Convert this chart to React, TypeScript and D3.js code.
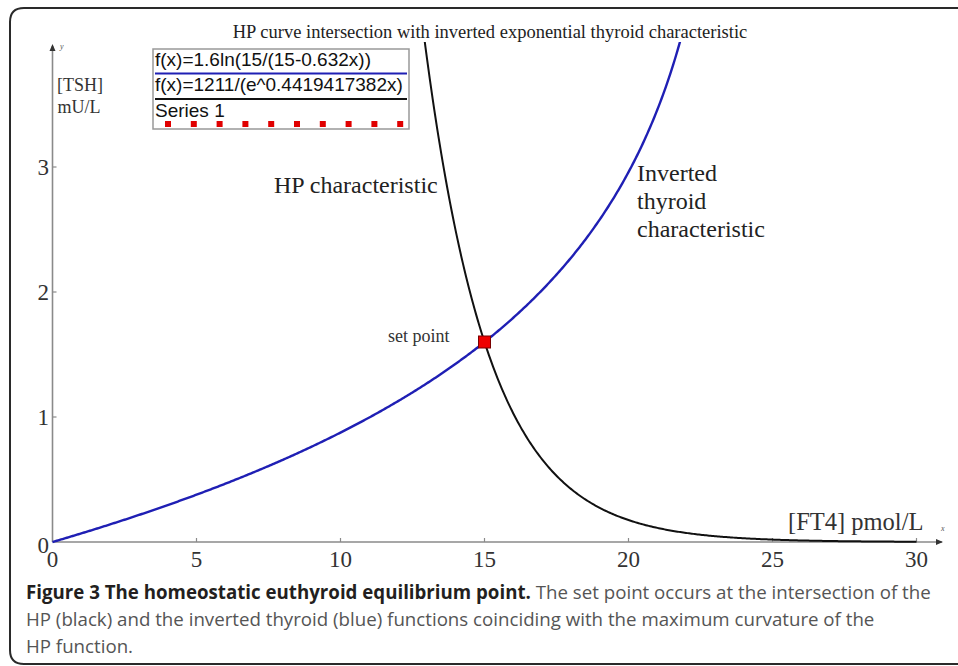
import React from "react";
import * as d3 from "d3";

// Function parameters as given in the legend
const thyroidA = 1.6; // f(x)=1.6ln(15/(15-0.632x))
const thyroidB = 15;
const thyroidC = 0.632;
const hpA = 1211; // f(x)=1211/(e^0.4419417382x)
const hpK = 0.4419417382;

const xTicks = [0, 5, 10, 15, 20, 25, 30];
const yTicks = [0, 1, 2, 3];
const setPoint = [{ x: 15, y: 1.6 }];
const legendLabels = ["f(x)=1.6ln(15/(15-0.632x))", "f(x)=1211/(e^0.4419417382x)", "Series 1"];
const legendColors = ["#1f1fb4", "#111111", "#e00000"];

const W = 958;
const H = 666;
const SERIF = "'Liberation Serif', 'Times New Roman', serif";
const SANS = "'Liberation Sans', Arial, sans-serif";
const CAP = "'Open Sans', 'Noto Sans', sans-serif";

export default function App() {
  const x = d3.scaleLinear().domain([0, 30]).range([52.5, 916.5]);
  const y = d3.scaleLinear().domain([0, 3]).range([542, 167]);

  const blueXs = d3.range(0, 22.5, 0.05);
  const blackXs = d3.range(12, 30.0001, 0.05);
  const blue = blueXs.map((v) => [v, thyroidA * Math.log(thyroidB / (thyroidB - thyroidC * v))] as [number, number]);
  const black = blackXs.map((v) => [v, hpA / Math.exp(hpK * v)] as [number, number]);
  const line = d3
    .line<[number, number]>()
    .x((d) => x(d[0]))
    .y((d) => y(d[1]));

  const axisColor = "#8a8a8a";
  const legendX = 153;
  const legendY = 49;
  const legendW = 256;
  const legendH = 80;
  const squareXs = d3.range(10).map((i) => 168 + i * 25.8);

  return (
    <svg
      width={W}
      height={H}
      style={{ position: "absolute", left: 0, top: 0, background: "#fff" }}
      xmlns="http://www.w3.org/2000/svg"
    >
      <defs>
        <clipPath id="plotClip">
          <rect x={40} y={42} width={900} height={510} />
        </clipPath>
      </defs>
      {/* frame */}
      <path d={`M ${W + 5} 8 L 24 8 Q 10 8 10 22 L 10 650 Q 10 664 24 664 L ${W + 5} 664`} fill="none" stroke="#2a2a2a" strokeWidth={2} />

      {/* title */}
      <text x={490} y={38} textAnchor="middle" fontFamily={SERIF} fontSize={18.5} fill="#222">
        HP curve intersection with inverted exponential thyroid characteristic
      </text>

      {/* axes */}
      <line x1={x(0)} y1={y(0)} x2={942} y2={y(0)} stroke={axisColor} strokeWidth={1.6} />
      <path d={`M 943 ${y(0)} l -7 -3 l 0 6 z`} fill="#333" />
      <line x1={x(0)} y1={y(0)} x2={x(0)} y2={46} stroke={axisColor} strokeWidth={1.6} />
      <path d={`M ${x(0)} 44 l -3 7 l 6 0 z`} fill="#333" />
      <text x={60} y={49} fontFamily={SERIF} fontSize={8} fontStyle="italic" fill="#555">y</text>
      <text x={941} y={531} fontFamily={SERIF} fontSize={8} fontStyle="italic" fill="#555">x</text>

      {xTicks.map((t) => (
        <g key={"xt" + t}>
          {t > 0 && <line x1={x(t)} x2={x(t)} y1={y(0) - 4} y2={y(0)} stroke={axisColor} strokeWidth={1.2} />}
          <text x={x(t)} y={567} textAnchor="middle" fontFamily={SERIF} fontSize={23} fill="#333">
            {t}
          </text>
        </g>
      ))}
      {yTicks.map((t) => (
        <g key={"yt" + t}>
          {t > 0 && <line x1={x(0)} x2={x(0) + 4} y1={y(t)} y2={y(t)} stroke={axisColor} strokeWidth={1.2} />}
          <text x={49} y={y(t) + (t === 0 ? 3 : 0)} dy="0.35em" textAnchor="end" fontFamily={SERIF} fontSize={23} fill="#333">
            {t}
          </text>
        </g>
      ))}

      {/* axis labels */}
      <text x={80} y={91} textAnchor="middle" fontFamily={SERIF} fontSize={18} fill="#333">[TSH]</text>
      <text x={79} y={113} textAnchor="middle" fontFamily={SERIF} fontSize={18} fill="#333">mU/L</text>
      <text x={788} y={530} fontFamily={SERIF} fontSize={24.5} fill="#333">[FT4] pmol/L</text>

      {/* curves */}
      <g clipPath="url(#plotClip)">
        <path d={line(blue) || ""} fill="none" stroke="#1f1fb4" strokeWidth={2.4} />
        <path d={line(black) || ""} fill="none" stroke="#111" strokeWidth={2} />
      </g>

      {/* set point */}
      {setPoint.map((p, i) => (
        <rect key={i} x={x(p.x) - 6} y={y(p.y) - 6} width={12} height={12} fill="#ee0000" stroke="#7a0000" strokeWidth={1} />
      ))}
      <text x={388} y={342} fontFamily={SERIF} fontSize={18} fill="#333">set point</text>

      {/* annotations */}
      <text x={274} y={193} fontFamily={SERIF} fontSize={24} fill="#222">HP characteristic</text>
      <text fontFamily={SERIF} fontSize={24} fill="#222">
        <tspan x={637} y={181}>Inverted</tspan>
        <tspan x={637} y={209}>thyroid</tspan>
        <tspan x={637} y={237}>characteristic</tspan>
      </text>

      {/* legend */}
      <rect x={legendX} y={legendY} width={legendW} height={legendH} fill="#fff" stroke="#999" strokeWidth={1.5} />
      <text x={155} y={66} fontFamily={SANS} fontSize={19} fill="#111">{legendLabels[0]}</text>
      <line x1={155} x2={407} y1={73.5} y2={73.5} stroke={legendColors[0]} strokeWidth={2} />
      <text x={155} y={91} fontFamily={SANS} fontSize={19} fill="#111">{legendLabels[1]}</text>
      <line x1={155} x2={407} y1={99} y2={99} stroke={legendColors[1]} strokeWidth={2} />
      <text x={155} y={117} fontFamily={SANS} fontSize={19} fill="#111">{legendLabels[2]}</text>
      {squareXs.map((sx, i) => (
        <rect key={i} x={sx - 3} y={121} width={6} height={6} fill={legendColors[2]} />
      ))}

      {/* caption */}
      <text x={26} y={599} fontFamily={CAP} fontSize={18.7} fill="#555">
        <tspan fontWeight="bold" fill="#231f20">Figure 3 The homeostatic euthyroid equilibrium point.</tspan>
        <tspan> The set point occurs at the intersection of the</tspan>
      </text>
      <text x={26} y={626} fontFamily={CAP} fontSize={18.7} fill="#555">
        HP (black) and the inverted thyroid (blue) functions coinciding with the maximum curvature of the
      </text>
      <text x={26} y={653} fontFamily={CAP} fontSize={18.7} fill="#555">
        HP function.
      </text>
    </svg>
  );
}
